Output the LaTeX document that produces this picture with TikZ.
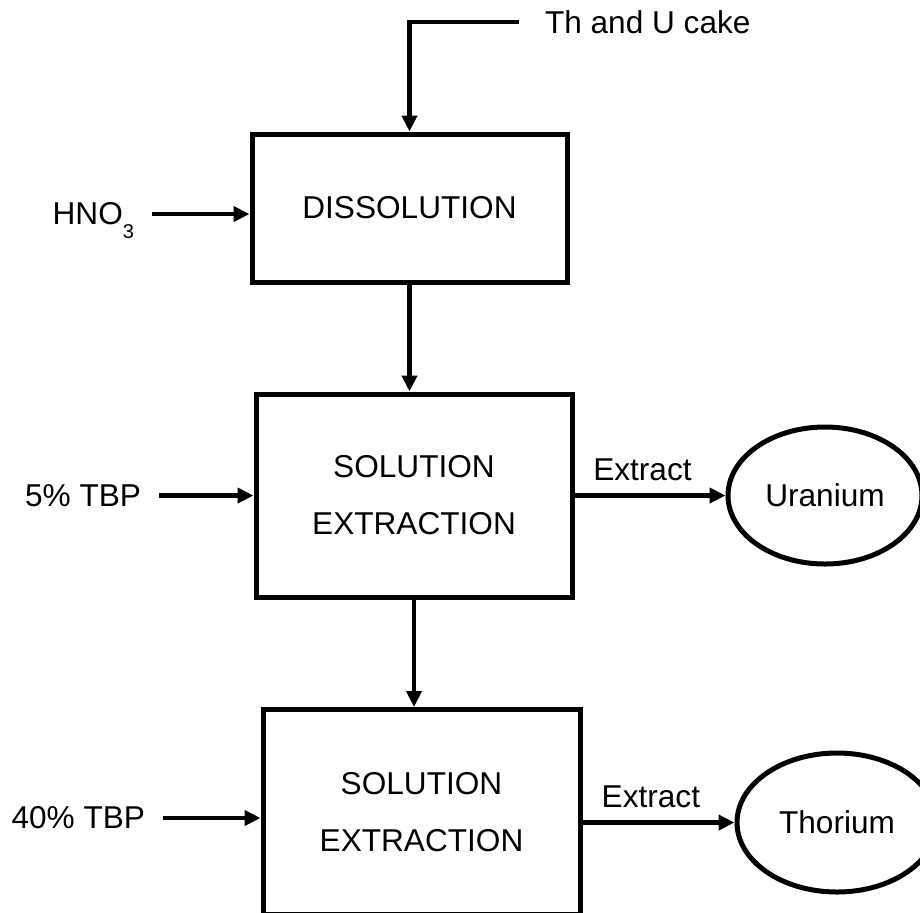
\documentclass[tikz,border=0pt]{standalone}
\usepackage{fontspec}
\setmainfont{Liberation Sans}
\usetikzlibrary{arrows.meta,positioning,shapes.geometric}

\tikzset{
  block/.style={draw, line width=2.5pt, align=center, font=\fontsize{15.8}{28.5}\selectfont},
  product/.style={draw, ellipse, line width=2.5pt, inner sep=1pt, font=\fontsize{15.8}{18}\selectfont},
  feed/.style={inner xsep=9pt, outer sep=0pt, font=\fontsize{15.8}{18}\selectfont},
  flow/.style={->, line width=2.4pt}
}

\begin{document}
\begin{tikzpicture}[x=1pt,y=1pt,>={Triangle[length=8pt,width=7.5pt]}]
            \useasboundingbox (0,0) rectangle (460,-456);
            \clip (0,0) rectangle (460,-456);

            \node[block, minimum width=157.5pt, minimum height=74pt] (diss) at (204.75,-104) {DISSOLUTION};
            \node[block, minimum width=158pt, minimum height=101.5pt] (ext1) [below=53.5pt of diss, xshift=2.25pt] {SOLUTION\\EXTRACTION};
            \node[block, minimum width=158.5pt, minimum height=102.5pt] (ext2) [below=53.75pt of ext1, xshift=3.75pt] {SOLUTION\\EXTRACTION};
            \node[product, minimum width=97pt, minimum height=68.5pt] (uran) [right=75.5pt of ext1] {Uranium};
            \node[product, minimum width=100pt, minimum height=69.5pt] (thor) [right=76pt of ext2, yshift=-5.25pt] {Thorium};

            \node[feed, inner xsep=13pt, anchor=west] (cake) at (259.5,-11) {Th and U cake};
            \node[feed] (hno) [left=48.75pt of diss, yshift=-3pt] {HNO\raisebox{-7pt}[0pt][0pt]{\fontsize{10}{10}\selectfont 3}};
            \node[feed] (tbp5) [left=47.25pt of ext1] {5\% TBP};
            \node[feed] (tbp40) [left=48.75pt of ext2, yshift=-3pt] {40\% TBP};

            \path[flow]
                (cake.west) edge [to path={-| (\tikztotarget)}] (diss.north)
                (hno.east) edge (hno.east -| diss.west)
                (diss.south) edge (diss.south |- ext1.north)
                (tbp5.east) edge (tbp5.east -| ext1.west)
                (ext1.east) edge node[feed, above=4pt, pos=0.45] {Extract} (uran.west)
                (ext1.south) edge (ext1.south |- ext2.north)
                (tbp40.east) edge (tbp40.east -| ext2.west)
                (ext2.east |- thor.west) edge node[feed, above=4pt, pos=0.45] {Extract} (thor.west)
                ;
\end{tikzpicture}
\end{document}
